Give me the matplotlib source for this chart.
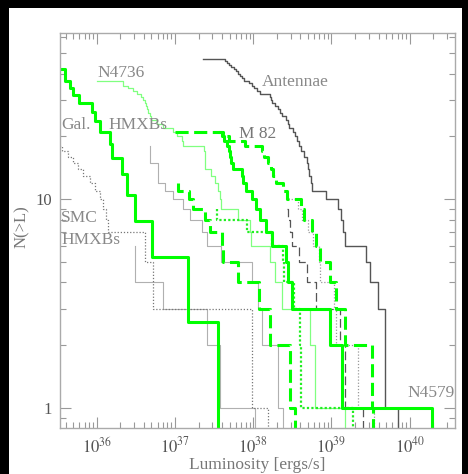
import numpy as np
import matplotlib
matplotlib.use("Agg")
import matplotlib.pyplot as plt
from matplotlib.patches import Rectangle
from matplotlib.ticker import NullFormatter

plt.rcParams['font.family'] = ['Liberation Serif', 'DejaVu Serif']
plt.rcParams['mathtext.fontset'] = 'stix'

# Cumulative luminosity functions N(>L).
# *_logl: log10 L of the left end, then of every drop; the last entry is
# where the curve falls out of the bottom of the plot.
# *_n: the level reached after each of those points.

gal_logl = [35.47, 35.60, 35.66, 35.70, 35.77, 35.94, 35.98, 36.04, 36.17,
            36.20, 36.32, 36.39, 36.49, 36.71, 37.17, 37.55]
gal_n = [42.1, 36.8, 34.2, 31.6, 28.9, 26.3, 23.7, 21.0, 18.4, 15.8, 13.2,
         10.5, 7.9, 5.3, 2.6]

smc_logl = [35.40, 35.56, 35.63, 35.70, 35.76, 35.83, 35.91, 35.98, 36.04,
            36.08, 36.12, 36.14, 36.62, 36.72, 37.98, 38.19]
smc_n = [18, 17, 16, 15, 14, 13, 12, 11, 10, 9, 8, 7, 5, 3, 1]

n4736_logl = [36.00, 36.34, 36.40, 36.46, 36.51, 36.57, 36.59, 36.62, 36.63,
              36.64, 36.66, 36.68, 36.69, 36.77, 36.85, 36.97, 37.03, 37.09,
              37.10, 37.37, 37.38, 37.46, 37.51, 37.55, 37.57, 37.59, 37.80,
              37.96, 37.97, 38.21, 38.28, 38.37, 38.72, 38.79, 39.18]
n4736_n = [37, 35, 34, 33, 32, 31, 30, 29, 28, 27, 26, 25, 24, 23, 22, 21,
           20, 19, 18, 17, 14, 13, 12, 11, 10, 9, 8, 7, 6, 5, 4, 3, 2, 1]

ant_logl = [37.36, 37.64, 37.66, 37.69, 37.72, 37.75, 37.78, 37.80, 37.83,
            37.86, 37.88, 37.95, 37.98, 38.01, 38.05, 38.09, 38.21, 38.23,
            38.24, 38.28, 38.32, 38.34, 38.37, 38.42, 38.44, 38.46, 38.51,
            38.53, 38.56, 38.58, 38.61, 38.65, 38.69, 38.70, 38.71, 38.74,
            38.75, 38.93, 39.08, 39.12, 39.15, 39.17, 39.44, 39.49, 39.59,
            39.68, 39.69, 39.85]
ant_n = [47, 46, 45, 44, 43, 42, 41, 40, 39, 38, 37, 36, 35, 34, 33, 32, 31,
         30, 29, 28, 27, 26, 25, 24, 23, 22, 21, 20, 19, 18, 17, 16, 15, 14,
         13, 12, 11, 10, 9, 8, 7, 6, 5, 4, 3, 2, 1]

m82_logl = [37.00, 37.61, 37.69, 37.89, 38.11, 38.14, 38.19, 38.23, 38.25,
            38.29, 38.38, 38.43, 38.61, 38.65, 38.75, 38.80, 38.86, 38.98,
            39.06, 39.18, 39.52, 39.53]
m82_n = [21, 20, 19, 18, 17, 16, 15, 14, 13, 12, 11, 10, 9, 8, 7, 6, 5, 4,
         3, 2, 1]

dash_logl = [37.04, 37.04, 37.18, 37.23, 37.38, 37.45, 37.60, 37.61, 37.80,
             38.07, 38.21, 38.47, 38.53]
dash_n = [12, 11, 10, 9, 8, 7, 6, 5, 4, 3, 2, 1]

solid_logl = [37.57, 37.60, 37.63, 37.66, 37.69, 37.70, 37.72, 37.74, 37.86,
              37.87, 37.91, 37.98, 38.03, 38.09, 38.17, 38.24, 38.42, 38.44,
              38.49, 38.98, 39.13, 40.28]
solid_n = [21, 20, 19, 18, 17, 16, 15, 14, 13, 12, 11, 10, 9, 8, 7, 6, 5, 4,
           3, 2, 1]

gdot_logl = [37.54, 37.54, 37.92, 38.24, 38.38, 38.40, 38.52, 38.60, 38.61,
             39.27]
gdot_n = [9, 8, 7, 6, 5, 4, 3, 2, 1]

kdash_logl = [38.43, 38.44, 38.47, 38.49, 38.58, 38.69, 38.80, 39.11, 39.18,
              39.40]
kdash_n = [9, 8, 7, 6, 5, 4, 3, 2, 1]

kdot_logl = [38.44, 38.57, 38.62, 38.70, 38.76, 38.84, 38.86, 39.03, 39.06,
             39.34, 39.54]
kdot_n = [10, 9, 8, 7, 6, 5, 4, 3, 2, 1]

greya_logl = [36.68, 36.68, 36.78, 36.87, 36.97, 37.10, 37.19, 37.34, 37.41,
              37.59, 37.98, 38.06, 38.11, 38.32, 38.38]
greya_n = [18, 15, 12, 11, 10, 9, 8, 7, 6, 5, 4, 3, 2, 1]

greyb_logl = [36.49, 36.49, 36.85, 37.41, 37.57, 38.02]
greyb_n = [6, 4, 3, 2, 1]

xtick_pows = [36, 37, 38, 39, 40]


def draw_lf(ax, logl, n, **kw):
    x = 10.0 ** np.asarray(logl)
    y = list(n) + [0.5]
    ax.plot(x, y, drawstyle='steps-post', **kw)


fig = plt.figure(figsize=(4.68, 4.74), dpi=100, facecolor='black')
fig.patches.append(Rectangle((9 / 468, 0), 453 / 468, 466 / 474,
                             transform=fig.transFigure, facecolor='white',
                             edgecolor='none', zorder=-10))
ax = fig.add_axes([60 / 468, 46 / 474, 395 / 468, 395 / 474])
ax.set_xscale('log')
ax.set_yscale('log')

green = '#00ff00'
draw_lf(ax, greyb_logl, greyb_n, color='#b0b0b0', lw=0.8)
draw_lf(ax, greya_logl, greya_n, color='#b0b0b0', lw=0.8)
draw_lf(ax, smc_logl, smc_n, color='#777777', lw=0.9, ls=(0, (1, 1.5)))
draw_lf(ax, kdot_logl, kdot_n, color='#999999', lw=0.9, ls=(0, (1, 1.5)))
draw_lf(ax, kdash_logl, kdash_n, color='#555555', lw=0.9, ls=(0, (7, 3)))
draw_lf(ax, ant_logl, ant_n, color='#555555', lw=1.0)
draw_lf(ax, n4736_logl, n4736_n, color='#80ff80', lw=0.9)
draw_lf(ax, gdot_logl, gdot_n, color='#22ee22', lw=1.6, ls=(0, (1, 1)))
draw_lf(ax, dash_logl, dash_n, color=green, lw=2.2, ls=(0, (4.3, 1.8)))
draw_lf(ax, m82_logl, m82_n, color=green, lw=2.2, ls=(0, (4.3, 1.8)))
draw_lf(ax, solid_logl, solid_n, color=green, lw=2.2)
draw_lf(ax, gal_logl, gal_n, color=green, lw=2.2)

ax.set_xlim(10 ** 35.53, 10 ** 40.58)
ax.set_ylim(0.805, 62.5)

ax.set_xticks([10.0 ** p for p in xtick_pows])
ax.set_xticklabels([r'$10^{%d}$' % p for p in xtick_pows])
ax.set_yticks([1, 10])
ax.set_yticklabels(['1', '10'])
ax.xaxis.set_minor_formatter(NullFormatter())
ax.yaxis.set_minor_formatter(NullFormatter())
ax.tick_params(which='both', direction='in', top=True, right=True,
               color='#999999', labelcolor='#555555', labelsize=12, width=0.8)
ax.tick_params(which='major', length=8, pad=6)
ax.tick_params(which='minor', length=4)
for s in ax.spines.values():
    s.set_color('#aaaaaa')
    s.set_linewidth(1.0)

lab = dict(color='#888888', fontsize=12.5, transform=ax.transAxes,
           va='center')
ax.text(0.096, 0.899, 'N4736', ha='left', **lab)
ax.text(0.511, 0.876, 'Antennae', ha='left', **lab)
ax.text(0.003, 0.767, 'Gal.', ha='left', **lab)
ax.text(0.122, 0.767, 'HMXBs', ha='left', **lab)
ax.text(0.453, 0.744, 'M 82', ha='left', color='#777777', fontsize=12.5,
        transform=ax.transAxes, va='center')
ax.text(0.003, 0.532, 'SMC', ha='left', **lab)
ax.text(0.003, 0.476, 'HMXBs', ha='left', **lab)
ax.text(1.0, 0.089, 'N4579', ha='right', **lab)

fig.text(257.5 / 468, 1 - 465 / 474, 'Luminosity [ergs/s]', ha='center',
         va='center', fontsize=12.5, color='#777777')
fig.text(22 / 468, 1 - 227 / 474, 'N(>L)', ha='center', va='center',
         rotation=90, fontsize=12, color='#777777')

fig.savefig('out.png', dpi=100, facecolor=fig.get_facecolor())
